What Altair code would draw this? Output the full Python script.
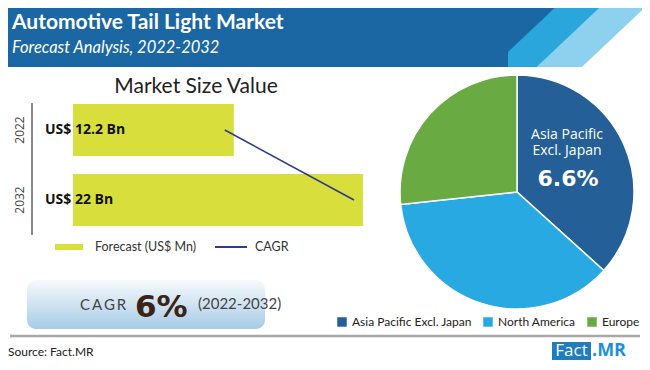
import altair as alt
import pandas as pd

# ---------------- data ----------------
years = ["2022", "2032"]
market_values = [12.2, 22.0]
value_labels = ["US$ 12.2 Bn", "US$ 22 Bn"]

regions = ["Asia Pacific Excl. Japan", "North America", "Europe"]
region_shares = [36.7, 36.6, 26.7]
region_order = [0, 1, 2]

# ---------------- styles ----------------
BAR = "#d8df3c"
LINE = "#2e3b8e"
DARK = "#1b67a4"
MID = "#2ba6dd"
LIGHT = "#8ed1ee"
REGION_COLORS = ["#245f98", "#29a9e1", "#6aaa43"]

bar_df = pd.DataFrame({"year": years, "value": market_values, "label": value_labels})
pie_df = pd.DataFrame({"region": regions, "share": region_shares, "order": region_order})
dummy = pd.DataFrame({"d": [0]})


def txt(s, x, y, size=12, color="#222", weight="normal", font="Lato", align="left",
        baseline="alphabetic", style="normal", **kw):
    return alt.Chart(dummy).mark_text(
        text=s, fontSize=size, color=color, fontWeight=weight, font=font,
        align=align, baseline=baseline, fontStyle=style, **kw
    ).encode(x=alt.value(x), y=alt.value(y))


def rect(x, x2, y, y2, color, **kw):
    return alt.Chart(dummy).mark_rect(color=color, **kw).encode(
        x=alt.value(x), x2=alt.value(x2), y=alt.value(y), y2=alt.value(y2))


def rule(x, x2, y, y2, color, width):
    return alt.Chart(dummy).mark_rule(color=color, strokeWidth=width, strokeCap="butt").encode(
        x=alt.value(x), x2=alt.value(x2), y=alt.value(y), y2=alt.value(y2))


# ---------------- header ----------------
header = [
    rule(639.5, 529.3, -25, 79, LIGHT, 32),
    rule(595, 484.8, -25, 79, MID, 31),
    rect(0, 500, 0, 59, DARK),
    rule(544, 433.8, -25, 79, DARK, 40),
    rect(330, 634, 59, 100, "white"),
    txt("Automotive Tail Light Market", 4, 21, size=21, color="white", weight="bold"),
    txt("Forecast Analysis, 2022-2032", 4, 45, size=16.5, color="white", style="italic"),
]

# ---------------- bar chart ----------------
xs = alt.Scale(domain=[0, 22], range=[65, 355])
ys = alt.Scale(domain=years, range=[96, 218], paddingInner=0.257, paddingOuter=0)
yaxis = alt.Axis(title=None, orient="left", offset=-24, labelAngle=-90, ticks=False,
                 domain=False, labelFontSize=12, labelColor="#444",
                 labelFont="Open Sans", labelPadding=6, grid=False,
                 labelAlign="center", labelBaseline="bottom")
Y = alt.Y("year:N", scale=ys, axis=yaxis, sort=years)

bars = alt.Chart(bar_df).mark_bar(color=BAR).encode(
    y=Y, x=alt.X("value:Q", scale=xs, axis=None), x2=alt.value(24))
cagr_line = alt.Chart(bar_df).mark_line(color=LINE, strokeWidth=1.6, xOffset=-9).encode(
    y=Y, x=alt.X("value:Q", scale=xs, axis=None))
bar_text = alt.Chart(bar_df).mark_text(
    align="left", baseline="middle", font="Open Sans", fontWeight="bold", fontSize=14,
    color="#111").encode(y=Y, x=alt.value(37), text="label:N")

bar_parts = [
    txt("Market Size Value", 188, 85, size=21, color="#222", align="center"),
    rule(24, 24, 95, 227, "#8a8a8a", 2),
    bars, cagr_line, bar_text,
    rect(47, 75, 236, 242, BAR),
    txt("Forecast (US$ Mn)", 87, 239, size=12.5, color="#333", baseline="middle"),
    rule(207, 239, 239, 239, LINE, 2),
    txt("CAGR", 247, 239, size=12.5, color="#333", baseline="middle"),
]

# ---------------- CAGR box ----------------
grad = alt.LinearGradient(
    gradient="linear",
    stops=[alt.GradientStop(color="#f7fafd", offset=0),
           alt.GradientStop(color="#a6cbe6", offset=1)],
    x1=0, x2=0, y1=0, y2=1)
cagr_box = [
    alt.Chart(dummy).mark_rect(color=grad, cornerRadius=9).encode(
        x=alt.value(19), x2=alt.value(257), y=alt.value(272), y2=alt.value(321)),
    txt("C\u2009A\u2009G\u2009R", 72, 302, size=15, color="#444"),
    txt("6%", 127, 309, size=31, color="#3b2417", weight="bold", font="DejaVu Sans"),
    txt("(2022-2032)", 190, 301, size=15, color="#444"),
]

# ---------------- pie ----------------
pie = alt.Chart(pie_df).mark_arc(outerRadius=117, stroke="white", strokeWidth=1.5).encode(
    theta=alt.Theta("share:Q", stack=True),
    order=alt.Order("order:Q"),
    color=alt.Color("region:N", scale=alt.Scale(domain=regions, range=REGION_COLORS),
                    legend=alt.Legend(orient="none", legendX=328, legendY=308,
                                      direction="horizontal", title=None, symbolType="square",
                                      symbolSize=90, symbolStrokeWidth=0, labelFontSize=12,
                                      labelFont="Lato", labelColor="#222", columnPadding=10,
                                      labelOffset=4)),
    x=alt.value(509), y=alt.value(184))
pie_parts = [
    pie,
    txt(["Asia Pacific", "Excl. Japan"], 559, 127, size=14, color="white", font="Open Sans",
        align="center", baseline="middle", lineHeight=16),
    txt("6.6%", 560, 171, size=22, color="white", weight="bold", font="DejaVu Sans",
        align="center", baseline="middle"),
]

# ---------------- footer ----------------
footer = [
    rule(2, 632, 328, 328, "#a8a8a8", 2.5),
    txt("Source: Fact.MR", 0, 344, size=12, color="#222", baseline="middle"),
    rect(544, 583, 334, 352, "#1f7dc0"),
    txt("Fact", 563.5, 343, size=17, color="white", font="Open Sans", align="center",
        baseline="middle"),
    txt(".MR", 584, 343, size=18, color="#1f8fd6", weight="bold", font="Open Sans",
        baseline="middle"),
]

chart = alt.layer(*header, *bar_parts, *cagr_box, *pie_parts, *footer).properties(
    width=634, height=354, autosize=alt.AutoSizeParams(type="none"), padding=0
).configure_view(strokeWidth=0)

chart.save("out.html", embed_options={"renderer": "svg", "actions": False})
